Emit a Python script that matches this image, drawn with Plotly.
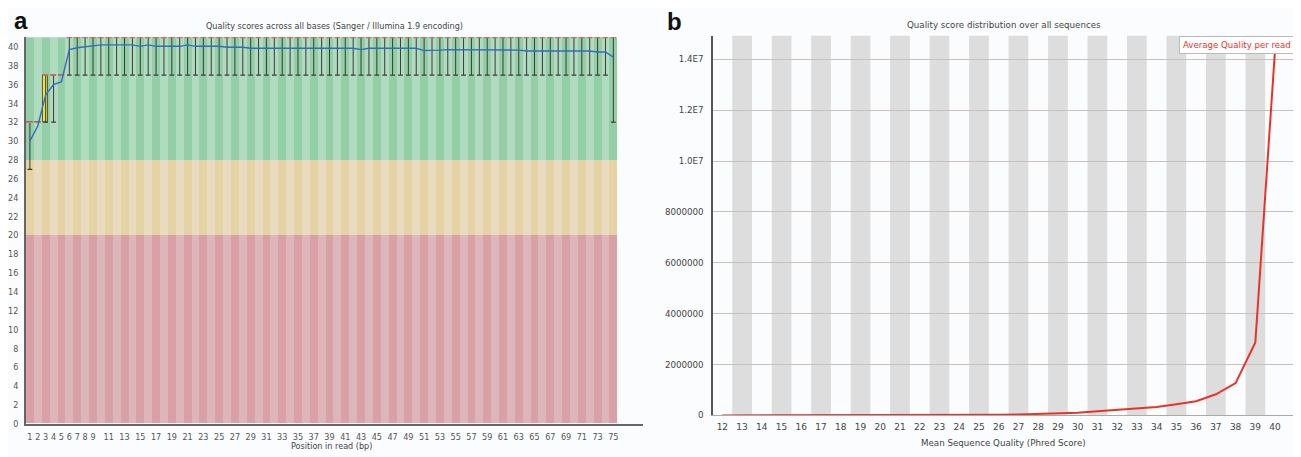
import plotly.graph_objects as go

# ---------------- Panel a data: per-base quality ----------------
positions = list(range(1, 76))
mean_quality = [30.0, 31.6, 34.9, 36.0, 36.3, 39.7, 39.9, 40.0, 40.1, 40.2,
                40.2, 40.2, 40.2, 40.2, 40.05, 40.2, 40.05, 40.05, 40.05, 40.05,
                40.2, 40.05, 40.05, 40.05, 40.05, 39.95, 39.95, 39.95, 39.85, 39.85,
                39.85, 39.85, 39.85, 39.85, 39.85, 39.85, 39.85, 39.85, 39.85, 39.85,
                39.85, 39.85, 39.7, 39.85, 39.85, 39.85, 39.85, 39.85, 39.85, 39.85,
                39.6, 39.6, 39.65, 39.7, 39.7, 39.65, 39.65, 39.7, 39.65, 39.65,
                39.65, 39.65, 39.65, 39.55, 39.55, 39.55, 39.55, 39.55, 39.55, 39.55,
                39.55, 39.55, 39.45, 39.45, 38.9]
median_q = [32, 32, 37, 37, 37, 41, 41, 41, 41, 41, 41, 41, 41, 41, 41, 41, 41, 41, 41, 41,
            41, 41, 41, 41, 41, 41, 41, 41, 41, 41, 41, 41, 41, 41, 41, 41, 41, 41, 41, 41,
            41, 41, 41, 41, 41, 41, 41, 41, 41, 41, 41, 41, 41, 41, 41, 41, 41, 41, 41, 41,
            41, 41, 41, 41, 41, 41, 41, 41, 41, 41, 41, 41, 41, 41, 41]
lower_q = [32, 32, 32, 37, 37, 41, 41, 41, 41, 41, 41, 41, 41, 41, 41, 41, 41, 41, 41, 41,
           41, 41, 41, 41, 41, 41, 41, 41, 41, 41, 41, 41, 41, 41, 41, 41, 41, 41, 41, 41,
           41, 41, 41, 41, 41, 41, 41, 41, 41, 41, 41, 41, 41, 41, 41, 41, 41, 41, 41, 41,
           41, 41, 41, 41, 41, 41, 41, 41, 41, 41, 41, 41, 41, 41, 41]
upper_q = [32, 32, 37, 37, 37, 41, 41, 41, 41, 41, 41, 41, 41, 41, 41, 41, 41, 41, 41, 41,
           41, 41, 41, 41, 41, 41, 41, 41, 41, 41, 41, 41, 41, 41, 41, 41, 41, 41, 41, 41,
           41, 41, 41, 41, 41, 41, 41, 41, 41, 41, 41, 41, 41, 41, 41, 41, 41, 41, 41, 41,
           41, 41, 41, 41, 41, 41, 41, 41, 41, 41, 41, 41, 41, 41, 41]
p10 = [27, 32, 32, 32, 37, 37, 37, 37, 37, 37, 37, 37, 37, 37, 37, 37, 37, 37, 37, 37,
       37, 37, 37, 37, 37, 37, 37, 37, 37, 37, 37, 37, 37, 37, 37, 37, 37, 37, 37, 37,
       37, 37, 37, 37, 37, 37, 37, 37, 37, 37, 37, 37, 37, 37, 37, 37, 37, 37, 37, 37,
       37, 37, 37, 37, 37, 37, 37, 37, 37, 37, 37, 37, 37, 37, 32]
p90 = [32, 32, 37, 37, 37, 41, 41, 41, 41, 41, 41, 41, 41, 41, 41, 41, 41, 41, 41, 41,
       41, 41, 41, 41, 41, 41, 41, 41, 41, 41, 41, 41, 41, 41, 41, 41, 41, 41, 41, 41,
       41, 41, 41, 41, 41, 41, 41, 41, 41, 41, 41, 41, 41, 41, 41, 41, 41, 41, 41, 41,
       41, 41, 41, 41, 41, 41, 41, 41, 41, 41, 41, 41, 41, 41, 41]
x_tick_labels_a = [1, 2, 3, 4, 5, 6, 7, 8, 9, 11, 13, 15, 17, 19, 21, 23, 25, 27, 29, 31,
                   33, 35, 37, 39, 41, 43, 45, 47, 49, 51, 53, 55, 57, 59, 61, 63, 65, 67,
                   69, 71, 73, 75]
y_tick_labels_a = [0, 2, 4, 6, 8, 10, 12, 14, 16, 18, 20, 22, 24, 26, 28, 30, 32, 34, 36, 38, 40]
zone_poor = 20
zone_ok = 28
zone_top = 41

# ---------------- Panel b data: per-sequence quality ----------------
mean_seq_quality = [12, 13, 14, 15, 16, 17, 18, 19, 20, 21, 22, 23, 24, 25, 26, 27, 28,
                    29, 30, 31, 32, 33, 34, 35, 36, 37, 38, 39, 40]
read_counts = [1000, 1500, 2000, 2500, 3000, 3500, 4500, 5500, 6500, 8000, 9500, 11000,
               13000, 16000, 27000, 40000, 55000, 80000, 107000, 160000, 213000, 267000,
               330000, 440000, 560000, 830000, 1270000, 2870000, 14400000]
y_tick_vals_b = [0, 2000000, 4000000, 6000000, 8000000, 10000000, 12000000, 14000000]
y_tick_text_b = ["0", "2000000", "4000000", "6000000", "8000000", "1.0E7", "1.2E7", "1.4E7"]

NARROW = "Liberation Sans Narrow, DejaVu Sans Condensed, Arial, sans-serif"
WIDE = "DejaVu Sans, Verdana, sans-serif"

fig = go.Figure()

# Background zones with alternating stripes
def stripe(dark, light):
    return [dark if p % 2 == 1 else light for p in positions]

fig.add_trace(go.Bar(x=positions, y=[zone_poor] * len(positions), base=0, width=1,
                     marker=dict(color=stripe("#d9a0a5", "#ddb6ba"), line=dict(width=0)),
                     hoverinfo="skip", showlegend=False, xaxis="x", yaxis="y"))
fig.add_trace(go.Bar(x=positions, y=[zone_ok - zone_poor] * len(positions), base=zone_poor, width=1,
                     marker=dict(color=stripe("#e5d2a5", "#e8dbbf"), line=dict(width=0)),
                     hoverinfo="skip", showlegend=False, xaxis="x", yaxis="y"))
fig.add_trace(go.Bar(x=positions, y=[zone_top - zone_ok] * len(positions), base=zone_ok, width=1,
                     marker=dict(color=stripe("#93cea6", "#b1dbbf"), line=dict(width=0)),
                     hoverinfo="skip", showlegend=False, xaxis="x", yaxis="y"))

# Interquartile boxes
fig.add_trace(go.Bar(x=positions, y=[u - l for u, l in zip(upper_q, lower_q)], base=lower_q,
                     width=0.7,
                     marker=dict(color="#e6e632", line=dict(color="#555555", width=1)),
                     hoverinfo="skip", showlegend=False, xaxis="x", yaxis="y"))

# Whiskers
wx, wy, cx, cy = [], [], [], []
for p, lo, hi in zip(positions, p10, p90):
    wx += [p, p, None]
    wy += [lo, hi, None]
    cx += [p - 0.3, p + 0.3, None, p - 0.3, p + 0.3, None]
    cy += [lo, lo, None, hi, hi, None]
fig.add_trace(go.Scatter(x=wx, y=wy, mode="lines", line=dict(color="#3a3a3a", width=1),
                         hoverinfo="skip", showlegend=False, xaxis="x", yaxis="y"))
fig.add_trace(go.Scatter(x=cx, y=cy, mode="lines", line=dict(color="#3a3a3a", width=1.2),
                         hoverinfo="skip", showlegend=False, xaxis="x", yaxis="y"))

# Medians
mx, my = [], []
for p, m in zip(positions, median_q):
    mx += [p - 0.35, p + 0.35, None]
    my += [m, m, None]
fig.add_trace(go.Scatter(x=mx, y=my, mode="lines", line=dict(color="#e87a6c", width=1.6),
                         hoverinfo="skip", showlegend=False, xaxis="x", yaxis="y", cliponaxis=False))

# Mean line
fig.add_trace(go.Scatter(x=positions, y=mean_quality, mode="lines",
                         line=dict(color="#2f6cc4", width=1.4),
                         showlegend=False, xaxis="x", yaxis="y"))

# Panel b line
fig.add_trace(go.Scatter(x=mean_seq_quality, y=read_counts, mode="lines",
                         line=dict(color="#e8332a", width=2),
                         name="Average Quality per read", showlegend=False,
                         xaxis="x2", yaxis="y2", cliponaxis=False))

# Gray bands for odd quality scores (panel b)
shapes = []
for q in mean_seq_quality:
    if q % 2 == 1:
        shapes.append(dict(type="rect", xref="x2", yref="y2 domain", x0=q - 0.5, x1=q + 0.5,
                           y0=0, y1=1, fillcolor="#dddddd", line=dict(width=0), layer="below"))

# The page body has an 8px margin, so the figure is placed at (8, 8) in the window.
OFF = 8
W, H = 1301 - OFF, 457 - OFF
def fx(px):
    return (px - OFF) / W
def fy(py):
    return 1 - (py - OFF) / H

fig.update_layout(
    width=W, height=H,
    margin=dict(l=0, r=0, t=0, b=0),
    paper_bgcolor="#fbfcfe", plot_bgcolor="#fbfcfe",
    barmode="overlay", bargap=0,
    shapes=shapes,
    xaxis=dict(domain=[fx(23), fx(641)], range=[0.5, 78.7], tickmode="array",
               tickvals=x_tick_labels_a, ticktext=[str(v) for v in x_tick_labels_a],
               showgrid=False, zeroline=False, showline=True, linecolor="#666666", linewidth=1.5,
               ticks="", tickfont=dict(family=NARROW, size=9, color="#555555"),
               ticklabelstandoff=4, anchor="y"),
    yaxis=dict(domain=[fy(428.5), fy(37.7)], range=[0, 41], tickmode="array",
               tickvals=y_tick_labels_a, ticktext=[str(v) for v in y_tick_labels_a],
               showgrid=False, zeroline=False, showline=True, linecolor="#666666", linewidth=1.5,
               ticks="", tickfont=dict(family=NARROW, size=9, color="#555555"),
               ticklabelstandoff=4, anchor="x"),
    xaxis2=dict(domain=[fx(712), fx(1295)], range=[11.545, 41.01], tickmode="array",
                tickvals=mean_seq_quality, ticktext=[str(v) for v in mean_seq_quality],
                showgrid=False, zeroline=False, showline=True, linecolor="#aaaaaa", linewidth=1,
                ticks="", tickfont=dict(family=WIDE, size=9, color="#444444"),
                ticklabelstandoff=3, anchor="y2"),
    yaxis2=dict(domain=[fy(420), fy(36)], range=[0, 14930000], tickmode="array",
                tickvals=y_tick_vals_b, ticktext=y_tick_text_b,
                showgrid=True, gridcolor="#c9c0bc", gridwidth=1, zeroline=False,
                showline=True, linecolor="#555555", linewidth=2,
                ticks="", tickfont=dict(family=WIDE, size=8.7, color="#444444"),
                ticklabelstandoff=6, anchor="x2"),
    annotations=[
        dict(text="<b>a</b>", x=fx(9), y=fy(21), xref="paper", yref="paper",
             xanchor="left", yanchor="middle", showarrow=False,
             font=dict(family="Liberation Sans, Arial", size=24, color="#111111")),
        dict(text="<b>b</b>", x=fx(664), y=fy(21.5), xref="paper", yref="paper",
             xanchor="left", yanchor="middle", showarrow=False,
             font=dict(family="Liberation Sans, Arial", size=24, color="#111111")),
        dict(text="Quality scores across all bases (Sanger / Illumina 1.9 encoding)",
             x=fx(332), y=fy(26), xref="paper", yref="paper", xanchor="center", yanchor="middle",
             showarrow=False, font=dict(family=NARROW, size=9, color="#444444")),
        dict(text="Position in read (bp)", x=fx(329), y=fy(451), xref="paper", yref="paper",
             xanchor="center", yanchor="middle", showarrow=False,
             font=dict(family=NARROW, size=9, color="#444444")),
        dict(text="Quality score distribution over all sequences",
             x=fx(1003), y=fy(25), xref="paper", yref="paper", xanchor="center", yanchor="middle",
             showarrow=False, font=dict(family=WIDE, size=8.7, color="#444444")),
        dict(text="Mean Sequence Quality (Phred Score)", x=fx(1003), y=fy(448),
             xref="paper", yref="paper", xanchor="center", yanchor="middle", showarrow=False,
             font=dict(family=WIDE, size=8.7, color="#444444")),
        dict(text="Average Quality per read", x=fx(1295), y=fy(36), xref="paper", yref="paper",
             xanchor="right", yanchor="top", showarrow=False, bgcolor="#ffffff",
             bordercolor="#bbbbbb", borderwidth=1, borderpad=3,
             font=dict(family=WIDE, size=8.6, color="#e8332a")),
    ],
)

fig.write_html("out.html")
